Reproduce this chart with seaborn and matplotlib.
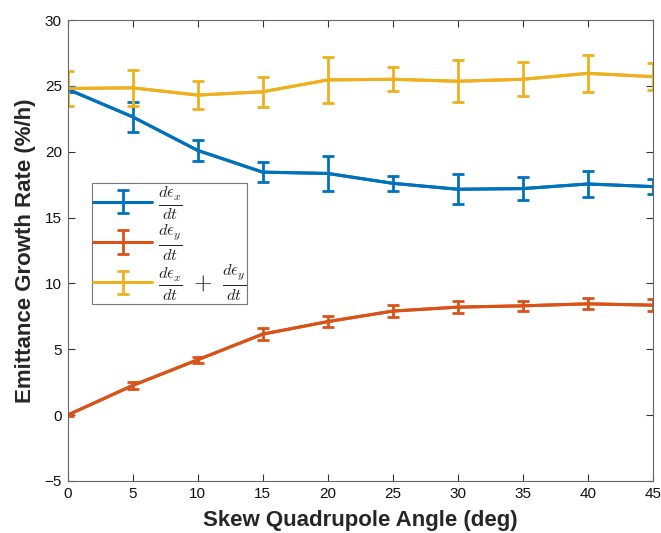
import numpy as np
import pandas as pd
import matplotlib
matplotlib.use("Agg")
import matplotlib.pyplot as plt
import seaborn as sns

angles = [0, 5, 10, 15, 20, 25, 30, 35, 40, 45]
rate_x = [24.75, 22.65, 20.1, 18.45, 18.35, 17.6, 17.15, 17.2, 17.55, 17.35]
err_x = [0.2, 1.15, 0.8, 0.75, 1.3, 0.55, 1.15, 0.9, 1.0, 0.55]
rate_y = [0.0, 2.25, 4.2, 6.15, 7.1, 7.9, 8.2, 8.3, 8.45, 8.35]
err_y = [0.1, 0.25, 0.25, 0.43, 0.43, 0.45, 0.48, 0.38, 0.42, 0.48]
rate_sum = [24.8, 24.85, 24.3, 24.55, 25.45, 25.5, 25.35, 25.5, 25.95, 25.7]
err_sum = [1.35, 1.35, 1.05, 1.15, 1.75, 0.9, 1.6, 1.3, 1.4, 1.05]

labels = [r"$\frac{d\epsilon_x}{dt}$",
          r"$\frac{d\epsilon_y}{dt}$",
          r"$\frac{d\epsilon_x}{dt}\;+\;\frac{d\epsilon_y}{dt}$"]
colors = ["#0072BD", "#D95319", "#EDB120"]

sns.set_theme(style="ticks")
plt.rcParams["font.family"] = ["Liberation Sans", "DejaVu Sans"]
plt.rcParams["mathtext.fontset"] = "cm"

fig = plt.figure(figsize=(6.61, 5.33), dpi=100)
ax = fig.add_axes([67.5 / 661, 1 - 481 / 533, (653 - 67.5) / 661, (481 - 20) / 533])

series = [(rate_x, err_x), (rate_y, err_y), (rate_sum, err_sum)]
handles = []
for (vals, errs), lab, col in zip(series, labels, colors):
    df = pd.DataFrame({"angle": angles, "rate": vals})
    sns.lineplot(data=df, x="angle", y="rate", color=col, linewidth=2.2, ax=ax, legend=False)
    h = ax.errorbar(angles, vals, yerr=errs, fmt="-", color=col, linewidth=2.2,
                    ecolor=col, elinewidth=2.0, capsize=4, capthick=2.0, label=lab)
    handles.append(h)

ax.set_xlim(0, 45)
ax.set_ylim(-5, 30)
ax.set_xticks(range(0, 46, 5))
ax.set_yticks(range(-5, 31, 5))
ax.set_yticklabels(["\u22125"] + [str(v) for v in range(0, 31, 5)])
ax.tick_params(direction="in", length=5, width=0.8, color="#333333", labelsize=11,
               top=True, right=True, pad=4, labelcolor="#111111")
for s in ax.spines.values():
    s.set_visible(True)
    s.set_color("#666666")
    s.set_linewidth(0.8)

ax.set_xlabel("Skew Quadrupole Angle (deg)", fontsize=16, fontweight="bold", labelpad=7)
ax.set_ylabel("Emittance Growth Rate (%/h)", fontsize=16, fontweight="bold", labelpad=6)

leg = ax.legend(handles=handles, labels=labels, loc="upper left",
                bbox_to_anchor=((92 - 67.5) / 585.5, (481 - 183) / 461),
                fontsize=17, frameon=True, fancybox=False, handlelength=2.5,
                handletextpad=0.25, borderpad=0.05, labelspacing=0.0, borderaxespad=0)
leg.get_frame().set_edgecolor("#555555")
leg.get_frame().set_linewidth(0.8)

fig.savefig("out.png", dpi=100)
